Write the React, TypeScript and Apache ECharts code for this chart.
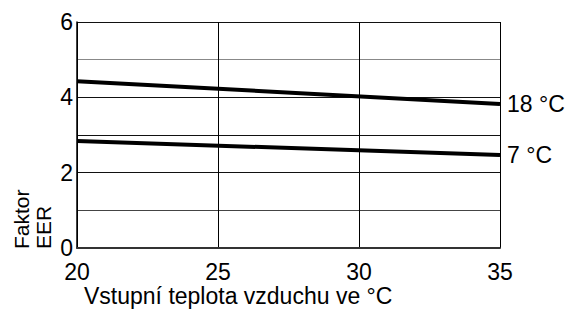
import React, { useEffect, useRef } from "react";
import * as echarts from "echarts";

const xValues = [20, 35];
const series18 = [4.43, 3.82];
const series7 = [2.84, 2.47];
const seriesNames = ["18 °C", "7 °C"];
const yTickLabels = ["0", "", "2", "", "4", "", "6"];
const xAxisTitle = "Vstupní teplota vzduchu ve °C";
const yAxisTitle = "Faktor\nEER";

const FONT = "'Liberation Sans', Arial, sans-serif";
const FS = 23;

export default function App() {
  const ref = useRef<HTMLDivElement>(null);
  useEffect(() => {
    if (!ref.current) return;
    const chart = echarts.init(ref.current, null, { renderer: "svg" });
    const mk = (vals: number[], name: string) => ({
      type: "line",
      name,
      data: xValues.map((x, i) => [x, vals[i]]),
      showSymbol: false,
      symbol: "none",
      lineStyle: { color: "#000", width: 4 },
      endLabel: {
        show: true,
        formatter: name,
        color: "#000",
        fontSize: FS,
        fontFamily: FONT,
        distance: 7,
      },
    });
    chart.setOption({
      animation: false,
      grid: { left: 77, right: 70, top: 22, bottom: 61 },
      xAxis: {
        type: "value",
        min: 20,
        max: 35,
        interval: 5,
        axisLine: { show: true, lineStyle: { color: "#333", width: 2 } },
        axisTick: { show: false },
        splitLine: { show: true, lineStyle: { color: "#000", width: 1 } },
        axisLabel: { color: "#000", fontSize: FS, fontFamily: FONT, margin: 12 },
      },
      yAxis: {
        type: "value",
        min: 0,
        max: 6,
        interval: 1,
        axisLine: { show: true, lineStyle: { color: "#000", width: 1.5 } },
        axisTick: { show: false },
        splitLine: {
          show: true,
          lineStyle: { color: ["#000", "#444", "#111", "#111", "#111", "#888", "#111"], width: 1 },
        },
        axisLabel: {
          color: "#000",
          fontSize: FS,
          fontFamily: FONT,
          margin: 4,
          formatter: (v: number) => yTickLabels[Math.round(v)] ?? "",
        },
      },
      graphic: [
        {
          type: "text",
          x: 84,
          y: 284,
          style: {
            text: xAxisTitle,
            fill: "#000",
            fontSize: FS,
            fontFamily: FONT,
            align: "left",
            verticalAlign: "top",
          },
        },
        {
          type: "text",
          x: 10,
          y: 249,
          rotation: Math.PI / 2,
          style: {
            text: yAxisTitle,
            fill: "#000",
            fontSize: 21,
            fontFamily: FONT,
            align: "left",
            verticalAlign: "top",
            lineHeight: 22,
          },
        },
      ],
      series: [mk(series18, seriesNames[0]), mk(series7, seriesNames[1])],
    });
    return () => chart.dispose();
  }, []);
  return <div ref={ref} style={{ width: 570, height: 309, position: "absolute", left: 0, top: 0 }} />;
}
